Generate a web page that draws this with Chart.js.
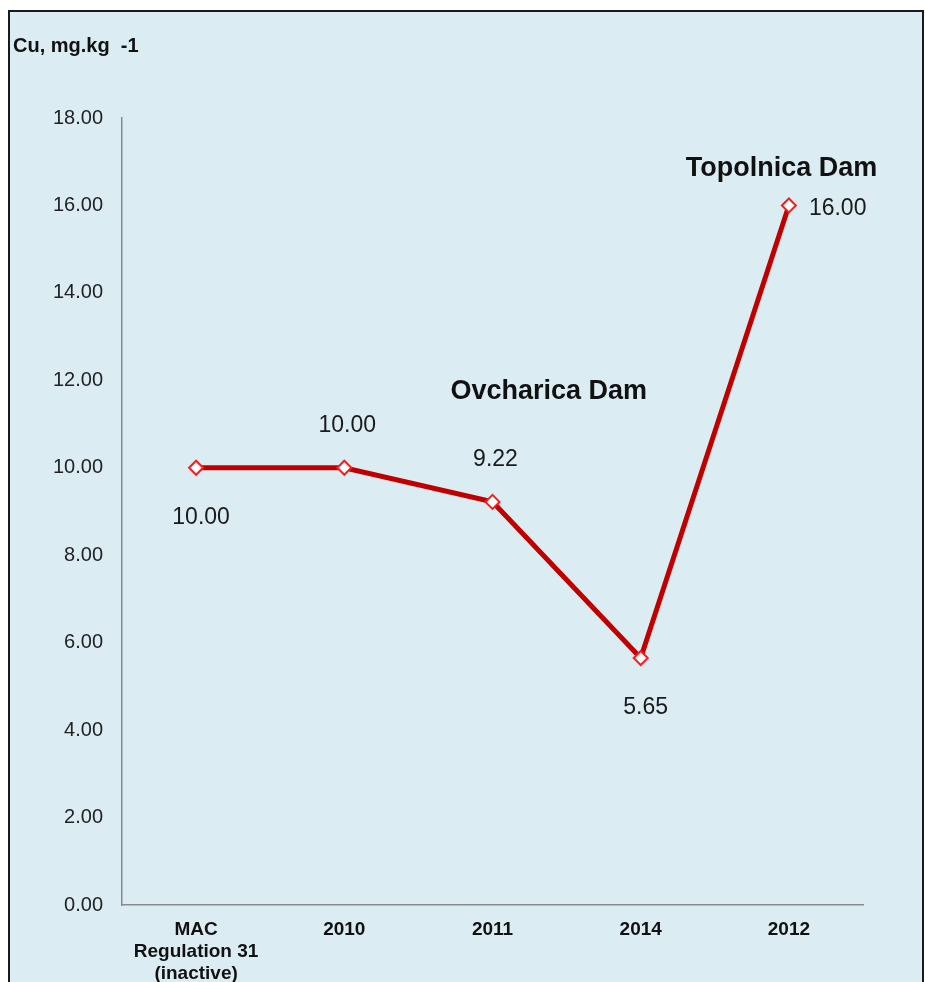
<!DOCTYPE html>
<html lang="en">
<head>
  <meta charset="UTF-8">
  <title>Cu, mg.kg -1</title>
  <script src="https://cdn.jsdelivr.net/npm/chart.js"></script>
  <style>
    html, body {
      margin: 0;
      padding: 0;
      background: #fff;
      overflow: hidden;
      font-family: 'Liberation Sans', Arial, sans-serif;
    }
    .frame {
      position: absolute;
      left: 8px;
      top: 10px;
      width: 912px;
      height: 1000px;
      border: 2px solid #1a1a1a;
      background: #dbedf3;
    }
    #grafico {
      position: absolute;
      left: 0;
      top: 0;
    }
  </style>
</head>
<body>
<div class="frame"></div>
<canvas id="grafico" width="925" height="982"></canvas>

<script>
  // categorias y valores
  const categorias = [['MAC', 'Regulation 31', '(inactive)'], '2010', '2011', '2014', '2012'];
  const valores = [10.00, 10.00, 9.22, 5.65, 16.00];
  const ticksY = [0, 2, 4, 6, 8, 10, 12, 14, 16, 18];

  // donde va cada etiqueta de valor (arriba / abajo / derecha)
  const posEtiquetas = ['below', 'above', 'above', 'below', 'right'];

  const anotaciones = [
    { text: 'Ovcharica Dam', cat: 2.38, val: 11.75 },
    { text: 'Topolnica Dam', cat: 3.95, val: 16.85 }
  ];

  const etiquetasPlugin = {
    id: 'etiquetas',
    afterDatasetsDraw(chart) {
      const ctx = chart.ctx;
      const meta = chart.getDatasetMeta(0);
      ctx.save();
      ctx.font = '23px "Liberation Sans", Arial, sans-serif';
      ctx.fillStyle = '#1a1a1a';
      ctx.textBaseline = 'middle';
      meta.data.forEach((p, i) => {
        const txt = valores[i].toFixed(2);
        const pos = posEtiquetas[i];
        if (pos === 'right') {
          ctx.textAlign = 'left';
          ctx.fillText(txt, p.x + 20, p.y + 3);
        } else if (pos === 'above') {
          ctx.textAlign = 'center';
          ctx.fillText(txt, p.x + 3, p.y - 42);
        } else {
          ctx.textAlign = 'center';
          ctx.fillText(txt, p.x + 5, p.y + 50);
        }
      });

      // textos de las presas
      ctx.font = 'bold 27px "Liberation Sans", Arial, sans-serif';
      ctx.fillStyle = '#111';
      ctx.textAlign = 'center';
      const xs = chart.scales.x, ys = chart.scales.y;
      anotaciones.forEach(a => {
        ctx.fillText(a.text, xs.getPixelForValue(a.cat), ys.getPixelForValue(a.val));
      });

      // titulo del eje
      ctx.font = 'bold 20px "Liberation Sans", Arial, sans-serif';
      ctx.textAlign = 'left';
      ctx.fillText('Cu, mg.kg  -1', 13, 46);
      ctx.restore();
    }
  };

  new Chart(document.getElementById('grafico'), {
    type: 'line',
    data: {
      labels: categorias,
      datasets: [{
        data: valores,
        borderColor: '#c00000',
        borderWidth: 5,
        tension: 0,
        pointStyle: 'rectRot',
        pointRadius: 7,
        pointBackgroundColor: '#ffffff',
        pointBorderColor: '#ff1a1a',
        pointBorderWidth: 2
      }]
    },
    options: {
      responsive: false,
      animation: false,
      layout: {
        padding: { left: 0, top: 118, right: 62, bottom: 0 }
      },
      plugins: {
        legend: { display: false },
        tooltip: { enabled: false }
      },
      scales: {
        x: {
          offset: true,
          grid: { display: false, drawTicks: false },
          border: { display: true, color: '#8a8a8a', width: 1.5 },
          ticks: {
            padding: 14,
            color: '#111',
            font: { family: '"Liberation Sans", Arial, sans-serif', size: 19, weight: 'bold', lineHeight: 1.15 },
            maxRotation: 0,
            autoSkip: false
          },
          afterFit(scale) { scale.height = 77; }
        },
        y: {
          min: 0,
          max: 18,
          afterBuildTicks(scale) { scale.ticks = ticksY.map(v => ({ value: v })); },
          grid: { display: false, drawTicks: false },
          border: { display: true, color: '#8a8a8a', width: 1.5 },
          ticks: {
            padding: 19,
            color: '#222',
            font: { family: '"Liberation Sans", Arial, sans-serif', size: 20 },
            callback: v => v.toFixed(2)
          },
          afterFit(scale) { scale.width = 122; }
        }
      }
    },
    plugins: [etiquetasPlugin]
  });
</script>
</body>
</html>
